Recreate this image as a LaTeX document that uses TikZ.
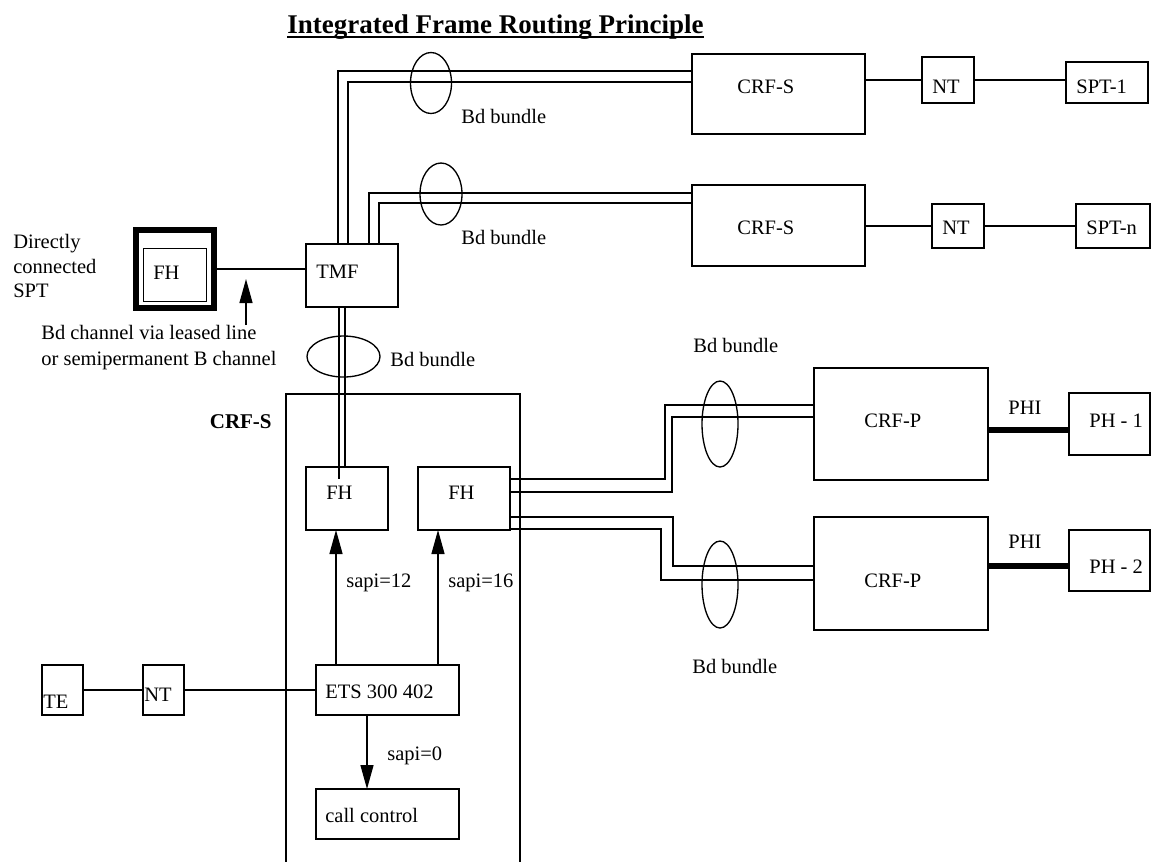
\documentclass[tikz,border=0pt]{standalone}
\usepackage{fontspec}
\setmainfont{Liberation Serif}
\usetikzlibrary{arrows.meta,calc,shapes.geometric}

\begin{document}
\begin{tikzpicture}[
    x=0.6pt, y=-0.6pt,
    every node/.style={font=\fontsize{12.3}{14.8}\selectfont},
    sz/.style 2 args={minimum width=#1*0.6pt, minimum height=#2*0.6pt},
    box/.style={rectangle, draw, line width=0.8pt, inner sep=0pt, outer sep=0pt},
    bundle/.style={ellipse, draw, line width=0.8pt, inner sep=0pt, outer sep=0pt},
    txt/.style={inner sep=0pt, anchor=base west},
    title/.style={inner sep=0pt, anchor=base west, font=\fontsize{16.2}{19}\selectfont\bfseries},
    wire/.style={line width=0.8pt},
    arrow/.style={-{Triangle[length=14.4pt,width=7.8pt]}, line width=0.8pt},
    phi/.style={line width=3.6pt}
]
    \clip (0,0) rectangle (1152,861);

% -------------------------
% Title
% -------------------------
    \node[title] (ttl) at (287,33) {Integrated Frame Routing Principle};
    \draw[line width=1.1pt] ([yshift=-2.4pt]ttl.base west) -- ([yshift=-2.4pt]ttl.base east);

% -------------------------
% Remote CRF-S rows
% -------------------------
    \node[box, sz={173}{80}] (crfs1) at (778.5,94) {};
    \node[txt] (crfs1l) at (737,93) {CRF-S};
    \node[box, sz={52}{46}] (nt1) at (948,80) {};
    \node[txt] (nt1l) at (932,93) {NT};
    \node[box, sz={82}{41}] (spt1) at (1107,82.5) {};
    \node[txt] (spt1l) at (1076,93) {SPT-1};

    \node[box, sz={173}{81}] (crfs2) at (778.5,225.5) {};
    \node[txt] (crfs2l) at (737,234) {CRF-S};
    \node[box, sz={52}{44}] (nt2) at (958,226) {};
    \node[txt] (nt2l) at (942,234) {NT};
    \node[box, sz={74}{44}] (sptn) at (1113,226) {};
    \node[txt] (sptnl) at (1086,234) {SPT-n};

    \draw[wire] (crfs1.east |- nt1) -- (nt1);
    \draw[wire] (nt1) -- (nt1 -| spt1.west);
    \draw[wire] (crfs2.east |- nt2) -- (nt2);
    \draw[wire] (nt2) -- (sptn);

% -------------------------
% TMF and directly connected SPT
% -------------------------
    \node[box, sz={92}{63}] (tmf) at (352,275.5) {};
    \node[txt] (tmfl) at (316,278) {TMF};

    \draw[wire] ($(tmf.north)+(-14,0)$) |- ($(crfs1.west)+(0,-23)$);
    \draw[wire] ($(tmf.north)+(-4,0)$) |- ($(crfs1.west)+(0,-12)$);
    \draw[wire] ($(tmf.north)+(17,0)$) |- ($(crfs2.west)+(0,-32.5)$);
    \draw[wire] ($(tmf.north)+(27,0)$) |- ($(crfs2.west)+(0,-22.5)$);
    \node[bundle, sz={41}{61}] (bd1) at (431,83) {};
    \node[txt] (bd1l) at (461,123) {Bd bundle};
    \node[bundle, sz={42}{62}] (bd2) at (441,194) {};
    \node[txt] (bd2l) at (461,244) {Bd bundle};

    \node[txt, anchor=north west, align=left] (sptd) at (13,234) {Directly\\connected\\SPT};
    \node[box, line width=3.3pt, sz={78}{78}] (fhd) at (175,269) {};
    \node[box, sz={62.5}{52.5}] (fhdin) at (175,275) {};
    \node[txt] (fhdl) at (153,279) {FH};
    \draw[wire] (fhd.east) -- (fhd.east -| tmf.west);

    \node[txt, anchor=north west, align=left, font=\fontsize{12.3}{15.6}\selectfont] (bdch) at (41,325)
        {Bd channel via leased line\\or semipermanent B channel};
    \coordinate (bdtip) at (246,279);
    \draw[arrow] (bdch.north -| bdtip) -- (bdtip);

% -------------------------
% Local CRF-S
% -------------------------
    \node[box, sz={234}{520}] (crfsx) at (403,654) {};
    \node[txt, anchor=base east, font=\fontsize{12.6}{15}\selectfont\bfseries] (crfsxl) at (272,428) {CRF-S};

    \node[box, sz={82}{63}] (fh1) at (347,498.5) {};
    \node[txt] (fh1l) at (326,499) {FH};
    \node[box, sz={92}{63}] (fh2) at (464,498.5) {};
    \node[txt] (fh2l) at (448,499) {FH};
    \node[box, sz={143}{50}] (ets) at (387.5,690) {};
    \node[txt] (etsl) at (325,698) {ETS 300 402};
    \node[box, sz={143}{50}] (cc) at (387.5,814) {};
    \node[txt] (ccl) at (325,822) {call control};

    \coordinate (tb1) at ($(tmf.south)+(-13,0)$);
    \coordinate (tb1e) at ($(fh1.north)+(-8,12)$);
    \coordinate (tb2) at ($(tmf.south)+(-7,0)$);
    \draw[wire] (tb1) -- (tb1e);
    \draw[wire] (tb2) -- (tb2 |- fh1.north);
    \node[bundle, sz={73}{41}] (bd3) at (343.5,356.5) {};
    \node[txt] (bd3l) at (390,366) {Bd bundle};

    \coordinate (s12) at ($(ets.north)+(-51.5,0)$);
    \draw[arrow] (s12) -- (s12 |- fh1.south);
    \node[txt] (s12l) at (346,587) {sapi=12};
    \coordinate (s16) at ($(ets.north)+(50.5,0)$);
    \draw[arrow] (s16) -- (s16 |- fh2.south);
    \node[txt] (s16l) at (448,587) {sapi=16};
    \coordinate (s0) at ($(ets.south)+(-20.5,0)$);
    \draw[arrow] (s0) -- (s0 |- cc.north);
    \node[txt] (s0l) at (387,760) {sapi=0};

% -------------------------
% TE access
% -------------------------
    \node[box, sz={41}{50}] (te) at (62.5,690) {};
    \node[txt] (tel) at (43,708) {TE};
    \node[box, sz={41}{50}] (nt3) at (163.5,690) {};
    \node[txt] (nt3l) at (144,701) {NT};
    \draw[wire] (te) -- (nt3);
    \draw[wire] (nt3) -- (ets);

% -------------------------
% CRF-P side
% -------------------------
    \node[box, sz={174}{112}] (crfp1) at (901,424) {};
    \node[txt] (crfp1l) at (864,427) {CRF-P};
    \node[box, sz={174}{113}] (crfp2) at (901,573.5) {};
    \node[txt] (crfp2l) at (864,587) {CRF-P};
    \node[box, sz={81}{62}] (ph1) at (1109.5,424) {};
    \node[txt] (ph1l) at (1089,427) {PH - 1};
    \node[box, sz={81}{61}] (ph2) at (1109.5,560.5) {};
    \node[txt] (ph2l) at (1089,573) {PH - 2};

    \coordinate (phi1) at ($(crfp1.east)+(0,6)$);
    \draw[phi] (phi1) -- (phi1 -| ph1.west);
    \node[txt] (phi1l) at (1008,414) {PHI};
    \coordinate (phi2) at ($(crfp2.east)+(0,-7.5)$);
    \draw[phi] (phi2) -- (phi2 -| ph2.west);
    \node[txt] (phi2l) at (1008,548) {PHI};

    \draw[wire] ($(fh2.east)+(0,-19.5)$) -| ($(crfp1.west)+(-149,-19)$) -- ($(crfp1.west)+(0,-19)$);
    \draw[wire] ($(fh2.east)+(0,-6.5)$) -| ($(crfp1.west)+(-142,-7)$) -- ($(crfp1.west)+(0,-7)$);
    \draw[wire] ($(fh2.east)+(0,18.5)$) -| ($(crfp2.west)+(-141,-7.5)$) -- ($(crfp2.west)+(0,-7.5)$);
    \draw[wire] ($(fh2.east)+(0,30.5)$) -| ($(crfp2.west)+(-153,6.5)$) -- ($(crfp2.west)+(0,6.5)$);
    \node[bundle, sz={36}{86}] (bd4) at (720,424) {};
    \node[txt] (bd4l) at (693,352) {Bd bundle};
    \node[bundle, sz={36}{87}] (bd5) at (720,584.5) {};
    \node[txt] (bd5l) at (692,673) {Bd bundle};
\end{tikzpicture}
\end{document}
